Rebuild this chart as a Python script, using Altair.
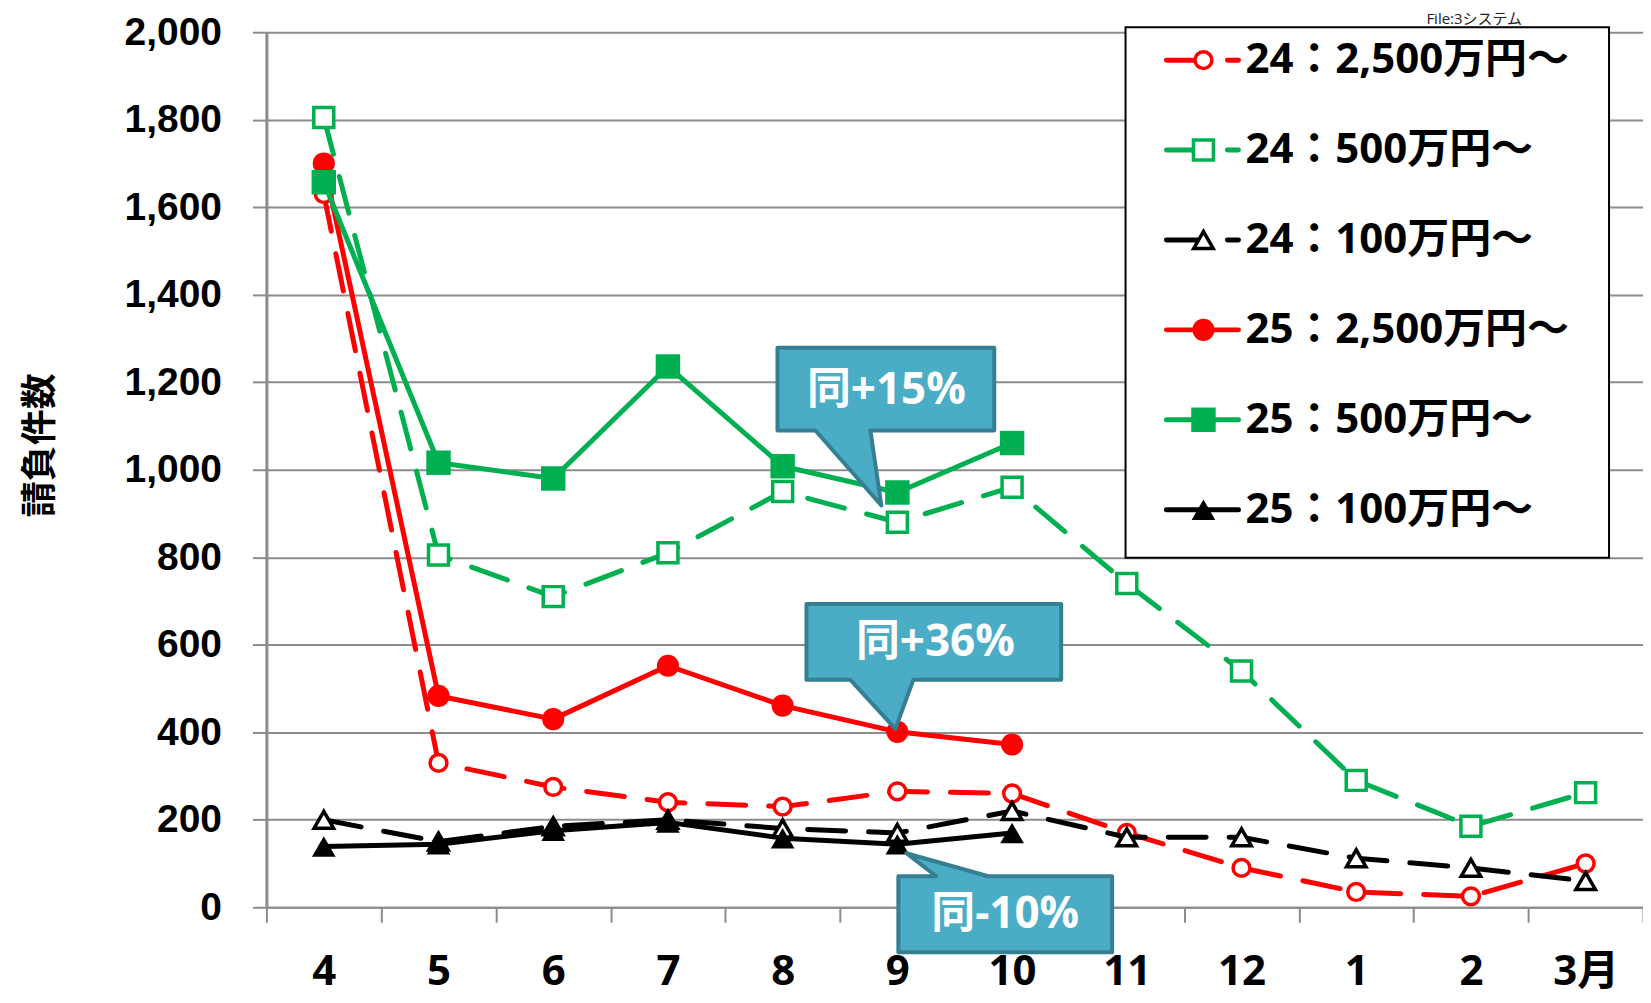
import altair as alt
import pandas as pd

# ---------------- data ----------------
months = ["4", "5", "6", "7", "8", "9", "10", "11", "12", "1", "2", "3月"]
series_names = ["24：2,500万円～", "24：500万円～", "24：100万円～",
                "25：2,500万円～", "25：500万円～", "25：100万円～"]
v24_2500 = [1630, 330, 275, 240, 230, 265, 260, 170, 90, 35, 25, 100]
v24_500 = [1805, 805, 710, 810, 950, 880, 960, 740, 540, 290, 185, 262]
v24_100 = [200, 150, 185, 200, 180, 170, 220, 160, 160, 112, 90, 60]
v25_2500 = [1700, 483, 430, 552, 461, 401, 372]
v25_500 = [1657, 1016, 980, 1236, 1008, 948, 1061]
v25_100 = [139, 144, 175, 194, 158, 144, 170]
callout_labels = ["同+15%", "同+36%", "同-10%"]
callout_series = [4, 3, 5]          # index into series (25:500, 25:2500, 25:100)
callout_month_idx = 5               # month "9"
y_ticks = list(range(0, 2001, 200))
y_title = "請負件数"
file_label = "File:3システム"

series_values = [v24_2500, v24_500, v24_100, v25_2500, v25_500, v25_100]

# ---------------- styles ----------------
FONT = "Open Sans, Noto Sans CJK JP, sans-serif"
YFONT = "Liberation Sans, Arial, sans-serif"
CJK = "Noto Sans CJK JP"
RED, GREEN, BLACK = "#FF0000", "#00B050", "#000000"
GRID = "#8c8c8c"
DASH = [38, 23]
styles = [
    dict(color=RED, dash=True, shape="circle", filled=False, size=284),
    dict(color=GREEN, dash=True, shape="square", filled=False, size=400),
    dict(color=BLACK, dash=True, shape="triangle-up", filled=False, size=380),
    dict(color=RED, dash=False, shape="circle", filled=True, size=491),
    dict(color=GREEN, dash=False, shape="square", filled=True, size=600),
    dict(color=BLACK, dash=False, shape="triangle-up", filled=True, size=560),
]

W, H = 1378, 876

x_enc = alt.X(
    "month:N",
    scale=alt.Scale(type="band", domain=months, paddingInner=0, paddingOuter=0),
    axis=alt.Axis(
        title=None, tickBand="extent", labelAngle=0, grid=False,
        domainColor=GRID, domainWidth=2, tickColor=GRID, tickWidth=2, tickSize=15,
        labelFont=FONT, labelFontSize=42, labelFontWeight="bold", labelColor="black",
        labelPadding=29, labelOverlap=False,
    ),
)
y_enc = alt.Y(
    "value:Q",
    scale=alt.Scale(domain=[0, 2000], nice=False, zero=True),
    axis=alt.Axis(
        values=y_ticks, format=",d", grid=True, gridColor=GRID, gridWidth=2,
        domainColor=GRID, domainWidth=3, tickColor=GRID, tickWidth=2, tickSize=14,
        labelFont=YFONT, labelFontSize=39, labelFontWeight="bold", labelColor="black",
        labelPadding=31, labelOverlap=False,
        title=y_title, titleFont=CJK, titleFontSize=36, titleFontWeight="bold",
        titleColor="black", titleAngle=270, titleX=-226, titleY=413,
        titleAlign="center", titleBaseline="middle",
    ),
)

layers = []

# ---------------- series ----------------
for name, vals, st in zip(series_names, series_values, styles):
    df = pd.DataFrame({"month": months[:len(vals)], "value": vals, "series": name})
    line_kw = dict(color=st["color"], strokeWidth=5, strokeCap="round", strokeJoin="round")
    if st["dash"]:
        line_kw["strokeDash"] = DASH
    layers.append(alt.Chart(df).mark_line(**line_kw).encode(x=x_enc, y=y_enc))
    if st["filled"]:
        pt = alt.Chart(df).mark_point(shape=st["shape"], size=st["size"], filled=True,
                                      fill=st["color"], opacity=1, strokeWidth=0)
    else:
        pt = alt.Chart(df).mark_point(shape=st["shape"], size=st["size"], filled=False,
                                      fill="white", fillOpacity=1, stroke=st["color"],
                                      strokeWidth=3.5, opacity=1)
    layers.append(pt.encode(x=x_enc, y=y_enc))

# ---------------- legend (manual) ----------------
one = pd.DataFrame({"k": [0]})
layers.append(
    alt.Chart(one).mark_rect(fill="white", stroke="black", strokeWidth=2).encode(
        x=alt.value(860), x2=alt.value(1344), y=alt.value(-5), y2=alt.value(526))
)
legend_df = pd.DataFrame({"name": series_names})
for i, st in enumerate(styles):
    yy = 28 + 90 * i
    sub = legend_df.iloc[[i]]
    rk = dict(color=st["color"], strokeWidth=5, strokeCap="round")
    if st["dash"]:
        rk["strokeDash"] = DASH
    layers.append(alt.Chart(sub).mark_rule(**rk).encode(
        x=alt.value(901), x2=alt.value(973), y=alt.value(yy)))
    if st["filled"]:
        pm = alt.Chart(sub).mark_point(shape=st["shape"], size=st["size"], filled=True,
                                       fill=st["color"], opacity=1, strokeWidth=0)
    else:
        pm = alt.Chart(sub).mark_point(shape=st["shape"], size=st["size"], filled=False,
                                       fill="white", fillOpacity=1, stroke=st["color"],
                                       strokeWidth=3.5, opacity=1)
    layers.append(pm.encode(x=alt.value(938), y=alt.value(yy)))
    layers.append(alt.Chart(sub).mark_text(
        align="left", baseline="middle", font=FONT, fontSize=42, fontWeight="bold",
        color="black").encode(x=alt.value(980), y=alt.value(yy), text="name:N"))

# ---------------- file label ----------------
layers.append(
    alt.Chart(pd.DataFrame({"t": [file_label]})).mark_text(
        align="center", baseline="alphabetic", font=FONT, fontSize=15, color="#222"
    ).encode(x=alt.value(1209), y=alt.value(-8), text="t:N")
)

# ---------------- callouts ----------------
callout_shapes = [
    "M-120,-145 H97 V-62 H-27 L-16,13 L-82,-62 H-120 Z",
    "M-91,-128 H164 V-52 H16 L-2,-3 L-47,-52 H-91 Z",
    "M1,32 H39 L9,9 L91,32 H215 V108 H1 Z",
]
callout_text_offsets = [(-11, -102), (38, -89), (108, 71)]
for lab, si, shp, (dx, dy) in zip(callout_labels, callout_series, callout_shapes,
                                    callout_text_offsets):
    cdf = pd.DataFrame({"month": [months[callout_month_idx]],
                        "value": [series_values[si][callout_month_idx]],
                        "label": [lab]})
    layers.append(alt.Chart(cdf).mark_point(
        shape=shp, size=4, filled=True, fill="#4BACC6", stroke="#367E92",
        strokeWidth=4, strokeJoin="round", opacity=1).encode(x=x_enc, y=y_enc))
    layers.append(alt.Chart(cdf).mark_text(
        align="center", baseline="middle", font=FONT, fontSize=44, fontWeight="bold",
        color="white", dx=dx, dy=dy).encode(x=x_enc, y=y_enc, text="label:N"))

chart = alt.layer(*layers).properties(
    width=W, height=H,
    padding={"left": 258.7, "top": 23.7, "right": 0, "bottom": 90},
    autosize=alt.AutoSizeParams(type="none"),
).configure_view(stroke=None).configure(background="white")

chart.save("out.html", embed_options={"renderer": "svg", "actions": False})
